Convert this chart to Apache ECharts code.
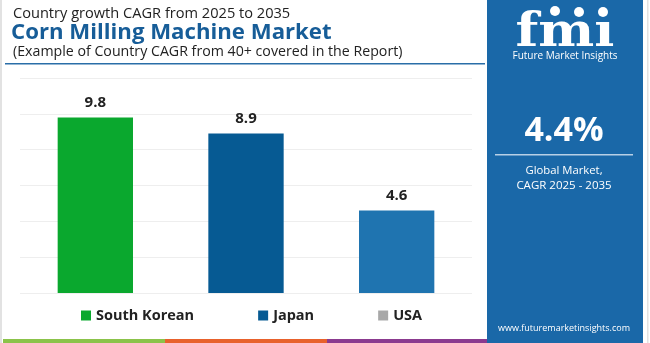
<!DOCTYPE html>
<html>
<head>
<meta charset="utf-8">
<script src="https://cdn.jsdelivr.net/npm/echarts@6/dist/echarts.min.js"></script>
<style>
  html, body { margin: 0; padding: 0; background: #fff; }
  #main { width: 650px; height: 343px; }
</style>
</head>
<body>
<div id="main"></div>
<script>
// 数据
var countries = ['South Korean', 'Japan', 'USA'];
var cagrValues = [9.8, 8.9, 4.6];
var barColors = ['#0aa82e', '#065a93', '#1f74b0'];
var legendColors = ['#0aa82e', '#065a93', '#a8a8a8'];
var globalCagr = '4.4%';

(function() {
    var chart = echarts.init(document.getElementById('main'));
    var font = '"Open Sans", sans-serif';

    // 每个国家一个系列，只在自己的类目上有值
    var series = countries.map(function(name, i) {
        var d = countries.map(function(c, j) { return j === i ? cagrValues[i] : '-'; });
        return {
            name: name,
            type: 'bar',
            data: d,
            barWidth: '50%',
            barGap: '-100%',
            itemStyle: { color: barColors[i] },
            label: {
                show: true,
                position: 'top',
                distance: 7,
                color: '#222',
                fontWeight: 'bold',
                fontSize: 15,
                fontFamily: font
            }
        };
    });

    var option = {
        backgroundColor: '#fff',
        animation: false,
        grid: { left: 20, right: 178, top: 78, bottom: 50 },
        xAxis: {
            type: 'category',
            data: countries,
            axisLine: { show: false },
            axisTick: { show: false },
            axisLabel: { show: false }
        },
        yAxis: {
            type: 'value',
            min: 0,
            max: 12,
            interval: 2,
            axisLabel: { show: false },
            axisLine: { show: false },
            axisTick: { show: false },
            splitLine: { lineStyle: { color: '#eeeeee', width: 1 } }
        },
        legend: {
            left: 81,
            top: 308,
            padding: 0,
            itemWidth: 10,
            itemHeight: 10,
            itemGap: 64,
            icon: 'rect',
            textStyle: { color: '#222', fontWeight: 'bold', fontSize: 14.5, fontFamily: font },
            data: countries.map(function(c, i) {
                return { name: c, itemStyle: { color: legendColors[i] } };
            })
        },
        graphic: [
            // 左边框
            { type: 'rect', shape: { x: 0, y: 0, width: 2, height: 343 }, style: { fill: '#e2e2e2' } },
            // 标题
            { type: 'text', left: 13, top: 6, style: { text: 'Country growth CAGR from 2025 to 2035', fill: '#222', fontSize: 14.6, fontFamily: font } },
            { type: 'text', left: 11, top: 22, style: { text: 'Corn Milling Machine Market', fill: '#175d98', fontSize: 22.2, fontWeight: 'bold', fontFamily: font } },
            { type: 'text', left: 13, top: 45, style: { text: '(Example of Country CAGR from 40+ covered in the Report)', fill: '#222', fontSize: 14.2, fontFamily: font } },
            { type: 'rect', shape: { x: 5, y: 63, width: 480, height: 1.5 }, style: { fill: '#2a6ea8' } },
            // 右侧面板
            { type: 'rect', shape: { x: 487, y: 0, width: 156, height: 343 }, style: { fill: '#1a68a8' } },
            { type: 'rect', shape: { x: 647, y: 0, width: 1.5, height: 343 }, style: { fill: '#e2e2e2' } },
            { type: 'text', x: 565, y: 34, scaleX: 1.15, style: { text: 'fmı', fill: '#fff', fontSize: 46, fontWeight: 'bold', fontFamily: 'DejaVu Serif', align: 'center', verticalAlign: 'middle' } },
            { type: 'circle', shape: { cx: 555, cy: 11, r: 5 }, style: { fill: '#fff' } },
            { type: 'circle', shape: { cx: 579, cy: 12, r: 5 }, style: { fill: '#fff' } },
            { type: 'circle', shape: { cx: 603, cy: 12, r: 5 }, style: { fill: '#fff' } },
            { type: 'text', x: 565, y: 56, style: { text: 'Future Market Insights', fill: '#fff', fontSize: 10, fontFamily: font, align: 'center', verticalAlign: 'middle' } },
            { type: 'text', x: 564, y: 131, style: { text: globalCagr, fill: '#fff', fontSize: 34, fontWeight: 'bold', fontFamily: font, align: 'center', verticalAlign: 'middle' } },
            { type: 'rect', shape: { x: 495, y: 154, width: 138, height: 1.5 }, style: { fill: '#b8d0e6' } },
            { type: 'text', x: 564, y: 171, style: { text: 'Global Market,', fill: '#fff', fontSize: 11.3, fontFamily: font, align: 'center', verticalAlign: 'middle' } },
            { type: 'text', x: 564, y: 186, style: { text: 'CAGR 2025 - 2035', fill: '#fff', fontSize: 11.5, fontFamily: font, align: 'center', verticalAlign: 'middle' } },
            { type: 'text', x: 564, y: 328, style: { text: 'www.futuremarketinsights.com', fill: '#fff', fontSize: 9, fontFamily: font, align: 'center', verticalAlign: 'middle' } },
            // 底部色条
            { type: 'rect', shape: { x: 3, y: 339, width: 162, height: 4 }, style: { fill: '#8bc34a' } },
            { type: 'rect', shape: { x: 165, y: 339, width: 162, height: 4 }, style: { fill: '#e8612c' } },
            { type: 'rect', shape: { x: 327, y: 339, width: 160, height: 4 }, style: { fill: '#8b3a8f' } }
        ],
        series: series
    };
    chart.setOption(option);
})();
</script>
</body>
</html>
